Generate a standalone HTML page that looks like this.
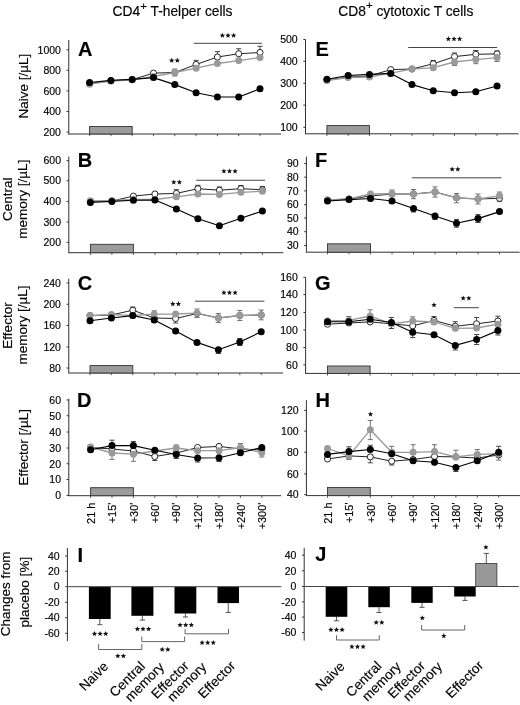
<!DOCTYPE html>
<html><head><meta charset="utf-8"><style>
html,body{margin:0;padding:0;background:#fff;}
body{width:520px;height:705px;overflow:hidden;}
svg{display:block;will-change:transform;}
text{font-family:"Liberation Sans", sans-serif;fill:#000;stroke:#000;stroke-width:0.15px;}
</style></head><body>
<svg width="520" height="705" viewBox="0 0 520 705">
<rect width="520" height="705" fill="#fff"/>
<line x1="68.75" y1="40" x2="68.75" y2="134.5" stroke="#333" stroke-width="1"/>
<line x1="66.55" y1="49.75" x2="68.75" y2="49.75" stroke="#333" stroke-width="1"/>
<text x="60.95" y="53.5" font-size="10.5" text-anchor="end" font-weight="normal">1000</text>
<line x1="66.55" y1="70.3" x2="68.75" y2="70.3" stroke="#333" stroke-width="1"/>
<text x="60.95" y="74.05" font-size="10.5" text-anchor="end" font-weight="normal">800</text>
<line x1="66.55" y1="90.9" x2="68.75" y2="90.9" stroke="#333" stroke-width="1"/>
<text x="60.95" y="94.65" font-size="10.5" text-anchor="end" font-weight="normal">600</text>
<line x1="66.55" y1="111.5" x2="68.75" y2="111.5" stroke="#333" stroke-width="1"/>
<text x="60.95" y="115.25" font-size="10.5" text-anchor="end" font-weight="normal">400</text>
<line x1="66.55" y1="132" x2="68.75" y2="132" stroke="#333" stroke-width="1"/>
<text x="60.95" y="135.75" font-size="10.5" text-anchor="end" font-weight="normal">200</text>
<line x1="68.75" y1="134" x2="281" y2="134" stroke="#333" stroke-width="1"/>
<line x1="89.6" y1="134" x2="89.6" y2="136.2" stroke="#333" stroke-width="0.8"/>
<line x1="110.9" y1="134" x2="110.9" y2="136.2" stroke="#333" stroke-width="0.8"/>
<line x1="132.2" y1="134" x2="132.2" y2="136.2" stroke="#333" stroke-width="0.8"/>
<line x1="153.5" y1="134" x2="153.5" y2="136.2" stroke="#333" stroke-width="0.8"/>
<line x1="174.8" y1="134" x2="174.8" y2="136.2" stroke="#333" stroke-width="0.8"/>
<line x1="196.1" y1="134" x2="196.1" y2="136.2" stroke="#333" stroke-width="0.8"/>
<line x1="217.4" y1="134" x2="217.4" y2="136.2" stroke="#333" stroke-width="0.8"/>
<line x1="238.7" y1="134" x2="238.7" y2="136.2" stroke="#333" stroke-width="0.8"/>
<line x1="260" y1="134" x2="260" y2="136.2" stroke="#333" stroke-width="0.8"/>
<rect x="89.6" y="126.5" width="42.6" height="7.5" fill="#9b9b9b" stroke="#333" stroke-width="0.9"/>
<text x="78" y="55.5" font-size="20" text-anchor="start" font-weight="bold">A</text>
<line x1="196.1" y1="65" x2="196.1" y2="60.4" stroke="#333" stroke-width="0.9"/>
<line x1="193.5" y1="60.4" x2="198.7" y2="60.4" stroke="#333" stroke-width="0.9"/>
<line x1="217.4" y1="56.5" x2="217.4" y2="51.6" stroke="#333" stroke-width="0.9"/>
<line x1="214.8" y1="51.6" x2="220" y2="51.6" stroke="#333" stroke-width="0.9"/>
<line x1="238.7" y1="53.75" x2="238.7" y2="48.75" stroke="#333" stroke-width="0.9"/>
<line x1="236.1" y1="48.75" x2="241.3" y2="48.75" stroke="#333" stroke-width="0.9"/>
<line x1="260" y1="52.5" x2="260" y2="46.25" stroke="#333" stroke-width="0.9"/>
<line x1="257.4" y1="46.25" x2="262.6" y2="46.25" stroke="#333" stroke-width="0.9"/>
<line x1="174.8" y1="72.5" x2="174.8" y2="69" stroke="#666" stroke-width="0.9"/>
<line x1="172.2" y1="69" x2="177.4" y2="69" stroke="#666" stroke-width="0.9"/>
<line x1="174.8" y1="72.5" x2="174.8" y2="76" stroke="#666" stroke-width="0.9"/>
<line x1="172.2" y1="76" x2="177.4" y2="76" stroke="#666" stroke-width="0.9"/>
<polyline points="89.6,83.5 110.9,80.8 132.2,79.6 153.5,73.1 174.8,72.5 196.1,64.5 217.4,57 238.7,53.75 260,52.5" fill="none" stroke="#222" stroke-width="1.0" stroke-linejoin="round"/>
<circle cx="89.6" cy="83.5" r="3.05" fill="#fff" stroke="#111" stroke-width="0.9"/>
<circle cx="110.9" cy="80.8" r="3.05" fill="#fff" stroke="#111" stroke-width="0.9"/>
<circle cx="132.2" cy="79.6" r="3.05" fill="#fff" stroke="#111" stroke-width="0.9"/>
<circle cx="153.5" cy="73.1" r="3.05" fill="#fff" stroke="#111" stroke-width="0.9"/>
<circle cx="174.8" cy="72.5" r="3.05" fill="#fff" stroke="#111" stroke-width="0.9"/>
<circle cx="196.1" cy="64.5" r="3.05" fill="#fff" stroke="#111" stroke-width="0.9"/>
<circle cx="217.4" cy="57" r="3.05" fill="#fff" stroke="#111" stroke-width="0.9"/>
<circle cx="238.7" cy="53.75" r="3.05" fill="#fff" stroke="#111" stroke-width="0.9"/>
<circle cx="260" cy="52.5" r="3.05" fill="#fff" stroke="#111" stroke-width="0.9"/>
<polyline points="89.6,84.2 110.9,81 132.2,79.8 153.5,76.5 174.8,72.5 196.1,68.2 217.4,63.5 238.7,60.6 260,57.5" fill="none" stroke="#999999" stroke-width="1.3" stroke-linejoin="round"/>
<circle cx="89.6" cy="84.2" r="3.5" fill="#9a9a9a"/>
<circle cx="110.9" cy="81" r="3.5" fill="#9a9a9a"/>
<circle cx="132.2" cy="79.8" r="3.5" fill="#9a9a9a"/>
<circle cx="153.5" cy="76.5" r="3.5" fill="#9a9a9a"/>
<circle cx="174.8" cy="72.5" r="3.5" fill="#9a9a9a"/>
<circle cx="196.1" cy="68.2" r="3.5" fill="#9a9a9a"/>
<circle cx="217.4" cy="63.5" r="3.5" fill="#9a9a9a"/>
<circle cx="238.7" cy="60.6" r="3.5" fill="#9a9a9a"/>
<circle cx="260" cy="57.5" r="3.5" fill="#9a9a9a"/>
<polyline points="89.6,82.5 110.9,80.4 132.2,79.4 153.5,77.6 174.8,84.6 196.1,92.75 217.4,97 238.7,97 260,88.75" fill="none" stroke="#000" stroke-width="1.15" stroke-linejoin="round"/>
<circle cx="89.6" cy="82.5" r="3.5" fill="#000"/>
<circle cx="110.9" cy="80.4" r="3.5" fill="#000"/>
<circle cx="132.2" cy="79.4" r="3.5" fill="#000"/>
<circle cx="153.5" cy="77.6" r="3.5" fill="#000"/>
<circle cx="174.8" cy="84.6" r="3.5" fill="#000"/>
<circle cx="196.1" cy="92.75" r="3.5" fill="#000"/>
<circle cx="217.4" cy="97" r="3.5" fill="#000"/>
<circle cx="238.7" cy="97" r="3.5" fill="#000"/>
<circle cx="260" cy="88.75" r="3.5" fill="#000"/>
<line x1="193.75" y1="43.3" x2="261.9" y2="43.3" stroke="#444" stroke-width="1"/>
<polygon points="171.7,57.8 172.44,59.58 174.36,59.73 172.9,60.99 173.35,62.87 171.7,61.86 170.05,62.87 170.5,60.99 169.04,59.73 170.96,59.58" fill="#111"/>
<polygon points="177.3,57.8 178.04,59.58 179.96,59.73 178.5,60.99 178.95,62.87 177.3,61.86 175.65,62.87 176.1,60.99 174.64,59.73 176.56,59.58" fill="#111"/>
<polygon points="222.4,32.8 223.14,34.58 225.06,34.73 223.6,35.99 224.05,37.87 222.4,36.86 220.75,37.87 221.2,35.99 219.74,34.73 221.66,34.58" fill="#111"/>
<polygon points="228,32.8 228.74,34.58 230.66,34.73 229.2,35.99 229.65,37.87 228,36.86 226.35,37.87 226.8,35.99 225.34,34.73 227.26,34.58" fill="#111"/>
<polygon points="233.6,32.8 234.34,34.58 236.26,34.73 234.8,35.99 235.25,37.87 233.6,36.86 231.95,37.87 232.4,35.99 230.94,34.73 232.86,34.58" fill="#111"/>
<line x1="68.8" y1="156.5" x2="68.8" y2="253.2" stroke="#333" stroke-width="1"/>
<line x1="66.6" y1="160.6" x2="68.8" y2="160.6" stroke="#333" stroke-width="1"/>
<text x="61" y="164.35" font-size="10.5" text-anchor="end" font-weight="normal">600</text>
<line x1="66.6" y1="180.7" x2="68.8" y2="180.7" stroke="#333" stroke-width="1"/>
<text x="61" y="184.45" font-size="10.5" text-anchor="end" font-weight="normal">500</text>
<line x1="66.6" y1="201.4" x2="68.8" y2="201.4" stroke="#333" stroke-width="1"/>
<text x="61" y="205.15" font-size="10.5" text-anchor="end" font-weight="normal">400</text>
<line x1="66.6" y1="221.9" x2="68.8" y2="221.9" stroke="#333" stroke-width="1"/>
<text x="61" y="225.65" font-size="10.5" text-anchor="end" font-weight="normal">300</text>
<line x1="66.6" y1="242.4" x2="68.8" y2="242.4" stroke="#333" stroke-width="1"/>
<text x="61" y="246.15" font-size="10.5" text-anchor="end" font-weight="normal">200</text>
<line x1="68.8" y1="252.7" x2="283.3" y2="252.7" stroke="#333" stroke-width="1"/>
<line x1="90.4" y1="252.7" x2="90.4" y2="254.9" stroke="#333" stroke-width="0.8"/>
<line x1="111.9" y1="252.7" x2="111.9" y2="254.9" stroke="#333" stroke-width="0.8"/>
<line x1="133.4" y1="252.7" x2="133.4" y2="254.9" stroke="#333" stroke-width="0.8"/>
<line x1="154.9" y1="252.7" x2="154.9" y2="254.9" stroke="#333" stroke-width="0.8"/>
<line x1="176.4" y1="252.7" x2="176.4" y2="254.9" stroke="#333" stroke-width="0.8"/>
<line x1="197.9" y1="252.7" x2="197.9" y2="254.9" stroke="#333" stroke-width="0.8"/>
<line x1="219.4" y1="252.7" x2="219.4" y2="254.9" stroke="#333" stroke-width="0.8"/>
<line x1="240.9" y1="252.7" x2="240.9" y2="254.9" stroke="#333" stroke-width="0.8"/>
<line x1="262.4" y1="252.7" x2="262.4" y2="254.9" stroke="#333" stroke-width="0.8"/>
<rect x="90.4" y="244.3" width="43" height="8.4" fill="#9b9b9b" stroke="#333" stroke-width="0.9"/>
<text x="77.75" y="167" font-size="20" text-anchor="start" font-weight="bold">B</text>
<line x1="176.4" y1="193.4" x2="176.4" y2="189.6" stroke="#333" stroke-width="0.9"/>
<line x1="173.8" y1="189.6" x2="179" y2="189.6" stroke="#333" stroke-width="0.9"/>
<line x1="197.9" y1="188.7" x2="197.9" y2="185.3" stroke="#333" stroke-width="0.9"/>
<line x1="195.3" y1="185.3" x2="200.5" y2="185.3" stroke="#333" stroke-width="0.9"/>
<line x1="219.4" y1="190.2" x2="219.4" y2="187" stroke="#333" stroke-width="0.9"/>
<line x1="216.8" y1="187" x2="222" y2="187" stroke="#333" stroke-width="0.9"/>
<line x1="240.9" y1="188.7" x2="240.9" y2="185.5" stroke="#333" stroke-width="0.9"/>
<line x1="238.3" y1="185.5" x2="243.5" y2="185.5" stroke="#333" stroke-width="0.9"/>
<line x1="262.4" y1="189.8" x2="262.4" y2="186.5" stroke="#333" stroke-width="0.9"/>
<line x1="259.8" y1="186.5" x2="265" y2="186.5" stroke="#333" stroke-width="0.9"/>
<polyline points="90.4,201.5 111.9,201 133.4,196.1 154.9,194 176.4,193.4 197.9,188.7 219.4,190.2 240.9,188.7 262.4,189.8" fill="none" stroke="#222" stroke-width="1.0" stroke-linejoin="round"/>
<circle cx="90.4" cy="201.5" r="3.05" fill="#fff" stroke="#111" stroke-width="0.9"/>
<circle cx="111.9" cy="201" r="3.05" fill="#fff" stroke="#111" stroke-width="0.9"/>
<circle cx="133.4" cy="196.1" r="3.05" fill="#fff" stroke="#111" stroke-width="0.9"/>
<circle cx="154.9" cy="194" r="3.05" fill="#fff" stroke="#111" stroke-width="0.9"/>
<circle cx="176.4" cy="193.4" r="3.05" fill="#fff" stroke="#111" stroke-width="0.9"/>
<circle cx="197.9" cy="188.7" r="3.05" fill="#fff" stroke="#111" stroke-width="0.9"/>
<circle cx="219.4" cy="190.2" r="3.05" fill="#fff" stroke="#111" stroke-width="0.9"/>
<circle cx="240.9" cy="188.7" r="3.05" fill="#fff" stroke="#111" stroke-width="0.9"/>
<circle cx="262.4" cy="189.8" r="3.05" fill="#fff" stroke="#111" stroke-width="0.9"/>
<polyline points="90.4,200.8 111.9,200.5 133.4,199.5 154.9,199.5 176.4,196.8 197.9,194 219.4,194.4 240.9,192.3 262.4,191.25" fill="none" stroke="#999999" stroke-width="1.3" stroke-linejoin="round"/>
<circle cx="90.4" cy="200.8" r="3.5" fill="#9a9a9a"/>
<circle cx="111.9" cy="200.5" r="3.5" fill="#9a9a9a"/>
<circle cx="133.4" cy="199.5" r="3.5" fill="#9a9a9a"/>
<circle cx="154.9" cy="199.5" r="3.5" fill="#9a9a9a"/>
<circle cx="176.4" cy="196.8" r="3.5" fill="#9a9a9a"/>
<circle cx="197.9" cy="194" r="3.5" fill="#9a9a9a"/>
<circle cx="219.4" cy="194.4" r="3.5" fill="#9a9a9a"/>
<circle cx="240.9" cy="192.3" r="3.5" fill="#9a9a9a"/>
<circle cx="262.4" cy="191.25" r="3.5" fill="#9a9a9a"/>
<polyline points="90.4,202.5 111.9,201.4 133.4,200.3 154.9,200 176.4,209 197.9,218.75 219.4,225.7 240.9,218.3 262.4,211" fill="none" stroke="#000" stroke-width="1.15" stroke-linejoin="round"/>
<circle cx="90.4" cy="202.5" r="3.5" fill="#000"/>
<circle cx="111.9" cy="201.4" r="3.5" fill="#000"/>
<circle cx="133.4" cy="200.3" r="3.5" fill="#000"/>
<circle cx="154.9" cy="200" r="3.5" fill="#000"/>
<circle cx="176.4" cy="209" r="3.5" fill="#000"/>
<circle cx="197.9" cy="218.75" r="3.5" fill="#000"/>
<circle cx="219.4" cy="225.7" r="3.5" fill="#000"/>
<circle cx="240.9" cy="218.3" r="3.5" fill="#000"/>
<circle cx="262.4" cy="211" r="3.5" fill="#000"/>
<line x1="196.3" y1="180.25" x2="264.9" y2="180.25" stroke="#444" stroke-width="1"/>
<polygon points="173.8,179.4 174.54,181.18 176.46,181.33 175,182.59 175.45,184.47 173.8,183.46 172.15,184.47 172.6,182.59 171.14,181.33 173.06,181.18" fill="#111"/>
<polygon points="179.4,179.4 180.14,181.18 182.06,181.33 180.6,182.59 181.05,184.47 179.4,183.46 177.75,184.47 178.2,182.59 176.74,181.33 178.66,181.18" fill="#111"/>
<polygon points="223.9,168.4 224.64,170.18 226.56,170.33 225.1,171.59 225.55,173.47 223.9,172.46 222.25,173.47 222.7,171.59 221.24,170.33 223.16,170.18" fill="#111"/>
<polygon points="229.5,168.4 230.24,170.18 232.16,170.33 230.7,171.59 231.15,173.47 229.5,172.46 227.85,173.47 228.3,171.59 226.84,170.33 228.76,170.18" fill="#111"/>
<polygon points="235.1,168.4 235.84,170.18 237.76,170.33 236.3,171.59 236.75,173.47 235.1,172.46 233.45,173.47 233.9,171.59 232.44,170.33 234.36,170.18" fill="#111"/>
<line x1="68.75" y1="278.75" x2="68.75" y2="373.5" stroke="#333" stroke-width="1"/>
<line x1="66.55" y1="283" x2="68.75" y2="283" stroke="#333" stroke-width="1"/>
<text x="60.95" y="286.75" font-size="10.5" text-anchor="end" font-weight="normal">240</text>
<line x1="66.55" y1="304.25" x2="68.75" y2="304.25" stroke="#333" stroke-width="1"/>
<text x="60.95" y="308" font-size="10.5" text-anchor="end" font-weight="normal">200</text>
<line x1="66.55" y1="325.5" x2="68.75" y2="325.5" stroke="#333" stroke-width="1"/>
<text x="60.95" y="329.25" font-size="10.5" text-anchor="end" font-weight="normal">160</text>
<line x1="66.55" y1="347" x2="68.75" y2="347" stroke="#333" stroke-width="1"/>
<text x="60.95" y="350.75" font-size="10.5" text-anchor="end" font-weight="normal">120</text>
<line x1="66.55" y1="368" x2="68.75" y2="368" stroke="#333" stroke-width="1"/>
<text x="60.95" y="371.75" font-size="10.5" text-anchor="end" font-weight="normal">80</text>
<line x1="68.75" y1="373" x2="283" y2="373" stroke="#333" stroke-width="1"/>
<line x1="90" y1="373" x2="90" y2="375.2" stroke="#333" stroke-width="0.8"/>
<line x1="111.4" y1="373" x2="111.4" y2="375.2" stroke="#333" stroke-width="0.8"/>
<line x1="132.8" y1="373" x2="132.8" y2="375.2" stroke="#333" stroke-width="0.8"/>
<line x1="154.2" y1="373" x2="154.2" y2="375.2" stroke="#333" stroke-width="0.8"/>
<line x1="175.6" y1="373" x2="175.6" y2="375.2" stroke="#333" stroke-width="0.8"/>
<line x1="197" y1="373" x2="197" y2="375.2" stroke="#333" stroke-width="0.8"/>
<line x1="218.4" y1="373" x2="218.4" y2="375.2" stroke="#333" stroke-width="0.8"/>
<line x1="239.8" y1="373" x2="239.8" y2="375.2" stroke="#333" stroke-width="0.8"/>
<line x1="261.2" y1="373" x2="261.2" y2="375.2" stroke="#333" stroke-width="0.8"/>
<rect x="90" y="365.6" width="42.8" height="7.4" fill="#9b9b9b" stroke="#333" stroke-width="0.9"/>
<text x="77.75" y="290" font-size="20" text-anchor="start" font-weight="bold">C</text>
<line x1="197" y1="313.2" x2="197" y2="309" stroke="#666" stroke-width="0.9"/>
<line x1="194.4" y1="309" x2="199.6" y2="309" stroke="#666" stroke-width="0.9"/>
<line x1="197" y1="313.2" x2="197" y2="317.5" stroke="#666" stroke-width="0.9"/>
<line x1="194.4" y1="317.5" x2="199.6" y2="317.5" stroke="#666" stroke-width="0.9"/>
<line x1="218.4" y1="318" x2="218.4" y2="313.5" stroke="#666" stroke-width="0.9"/>
<line x1="215.8" y1="313.5" x2="221" y2="313.5" stroke="#666" stroke-width="0.9"/>
<line x1="218.4" y1="318" x2="218.4" y2="322.5" stroke="#666" stroke-width="0.9"/>
<line x1="215.8" y1="322.5" x2="221" y2="322.5" stroke="#666" stroke-width="0.9"/>
<line x1="239.8" y1="315.5" x2="239.8" y2="310.5" stroke="#666" stroke-width="0.9"/>
<line x1="237.2" y1="310.5" x2="242.4" y2="310.5" stroke="#666" stroke-width="0.9"/>
<line x1="239.8" y1="315.5" x2="239.8" y2="320.5" stroke="#666" stroke-width="0.9"/>
<line x1="237.2" y1="320.5" x2="242.4" y2="320.5" stroke="#666" stroke-width="0.9"/>
<line x1="261.2" y1="314.9" x2="261.2" y2="310" stroke="#666" stroke-width="0.9"/>
<line x1="258.6" y1="310" x2="263.8" y2="310" stroke="#666" stroke-width="0.9"/>
<line x1="261.2" y1="314.9" x2="261.2" y2="319.8" stroke="#666" stroke-width="0.9"/>
<line x1="258.6" y1="319.8" x2="263.8" y2="319.8" stroke="#666" stroke-width="0.9"/>
<line x1="154.2" y1="315" x2="154.2" y2="310.8" stroke="#666" stroke-width="0.9"/>
<line x1="151.6" y1="310.8" x2="156.8" y2="310.8" stroke="#666" stroke-width="0.9"/>
<line x1="154.2" y1="315" x2="154.2" y2="319.5" stroke="#666" stroke-width="0.9"/>
<line x1="151.6" y1="319.5" x2="156.8" y2="319.5" stroke="#666" stroke-width="0.9"/>
<line x1="218.4" y1="349.8" x2="218.4" y2="353.5" stroke="#333" stroke-width="0.9"/>
<line x1="215.8" y1="353.5" x2="221" y2="353.5" stroke="#333" stroke-width="0.9"/>
<line x1="239.8" y1="342" x2="239.8" y2="345.5" stroke="#333" stroke-width="0.9"/>
<line x1="237.2" y1="345.5" x2="242.4" y2="345.5" stroke="#333" stroke-width="0.9"/>
<line x1="239.8" y1="342" x2="239.8" y2="338.5" stroke="#333" stroke-width="0.9"/>
<line x1="237.2" y1="338.5" x2="242.4" y2="338.5" stroke="#333" stroke-width="0.9"/>
<line x1="132.8" y1="310.2" x2="132.8" y2="307" stroke="#333" stroke-width="0.9"/>
<line x1="130.2" y1="307" x2="135.4" y2="307" stroke="#333" stroke-width="0.9"/>
<line x1="175.6" y1="318.5" x2="175.6" y2="323" stroke="#333" stroke-width="0.9"/>
<line x1="173" y1="323" x2="178.2" y2="323" stroke="#333" stroke-width="0.9"/>
<polyline points="90,315.5 111.4,315 132.8,310.2 154.2,318 175.6,318.5 197,313.5 218.4,318 239.8,315.5 261.2,315" fill="none" stroke="#222" stroke-width="1.0" stroke-linejoin="round"/>
<circle cx="90" cy="315.5" r="3.05" fill="#fff" stroke="#111" stroke-width="0.9"/>
<circle cx="111.4" cy="315" r="3.05" fill="#fff" stroke="#111" stroke-width="0.9"/>
<circle cx="132.8" cy="310.2" r="3.05" fill="#fff" stroke="#111" stroke-width="0.9"/>
<circle cx="154.2" cy="318" r="3.05" fill="#fff" stroke="#111" stroke-width="0.9"/>
<circle cx="175.6" cy="318.5" r="3.05" fill="#fff" stroke="#111" stroke-width="0.9"/>
<circle cx="197" cy="313.5" r="3.05" fill="#fff" stroke="#111" stroke-width="0.9"/>
<circle cx="218.4" cy="318" r="3.05" fill="#fff" stroke="#111" stroke-width="0.9"/>
<circle cx="239.8" cy="315.5" r="3.05" fill="#fff" stroke="#111" stroke-width="0.9"/>
<circle cx="261.2" cy="315" r="3.05" fill="#fff" stroke="#111" stroke-width="0.9"/>
<polyline points="90,315.6 111.4,314.6 132.8,315.5 154.2,314.2 175.6,314 197,313.2 218.4,318 239.8,315.5 261.2,314.9" fill="none" stroke="#999999" stroke-width="1.3" stroke-linejoin="round"/>
<circle cx="90" cy="315.6" r="3.5" fill="#9a9a9a"/>
<circle cx="111.4" cy="314.6" r="3.5" fill="#9a9a9a"/>
<circle cx="132.8" cy="315.5" r="3.5" fill="#9a9a9a"/>
<circle cx="154.2" cy="314.2" r="3.5" fill="#9a9a9a"/>
<circle cx="175.6" cy="314" r="3.5" fill="#9a9a9a"/>
<circle cx="197" cy="313.2" r="3.5" fill="#9a9a9a"/>
<circle cx="218.4" cy="318" r="3.5" fill="#9a9a9a"/>
<circle cx="239.8" cy="315.5" r="3.5" fill="#9a9a9a"/>
<circle cx="261.2" cy="314.9" r="3.5" fill="#9a9a9a"/>
<polyline points="90,320.8 111.4,318 132.8,315.6 154.2,320 175.6,331 197,342.4 218.4,349.8 239.8,342 261.2,331.8" fill="none" stroke="#000" stroke-width="1.15" stroke-linejoin="round"/>
<circle cx="90" cy="320.8" r="3.5" fill="#000"/>
<circle cx="111.4" cy="318" r="3.5" fill="#000"/>
<circle cx="132.8" cy="315.6" r="3.5" fill="#000"/>
<circle cx="154.2" cy="320" r="3.5" fill="#000"/>
<circle cx="175.6" cy="331" r="3.5" fill="#000"/>
<circle cx="197" cy="342.4" r="3.5" fill="#000"/>
<circle cx="218.4" cy="349.8" r="3.5" fill="#000"/>
<circle cx="239.8" cy="342" r="3.5" fill="#000"/>
<circle cx="261.2" cy="331.8" r="3.5" fill="#000"/>
<line x1="195" y1="301.2" x2="264.4" y2="301.2" stroke="#444" stroke-width="1"/>
<polygon points="172.8,301.1 173.54,302.88 175.46,303.03 174,304.29 174.45,306.17 172.8,305.16 171.15,306.17 171.6,304.29 170.14,303.03 172.06,302.88" fill="#111"/>
<polygon points="178.4,301.1 179.14,302.88 181.06,303.03 179.6,304.29 180.05,306.17 178.4,305.16 176.75,306.17 177.2,304.29 175.74,303.03 177.66,302.88" fill="#111"/>
<polygon points="223.9,289.9 224.64,291.68 226.56,291.83 225.1,293.09 225.55,294.97 223.9,293.96 222.25,294.97 222.7,293.09 221.24,291.83 223.16,291.68" fill="#111"/>
<polygon points="229.5,289.9 230.24,291.68 232.16,291.83 230.7,293.09 231.15,294.97 229.5,293.96 227.85,294.97 228.3,293.09 226.84,291.83 228.76,291.68" fill="#111"/>
<polygon points="235.1,289.9 235.84,291.68 237.76,291.83 236.3,293.09 236.75,294.97 235.1,293.96 233.45,294.97 233.9,293.09 232.44,291.83 234.36,291.68" fill="#111"/>
<line x1="68.8" y1="398.75" x2="68.8" y2="496.2" stroke="#333" stroke-width="1"/>
<line x1="66.6" y1="400" x2="68.8" y2="400" stroke="#333" stroke-width="1"/>
<text x="61" y="403.75" font-size="10.5" text-anchor="end" font-weight="normal">60</text>
<line x1="66.6" y1="415.75" x2="68.8" y2="415.75" stroke="#333" stroke-width="1"/>
<text x="61" y="419.5" font-size="10.5" text-anchor="end" font-weight="normal">50</text>
<line x1="66.6" y1="432" x2="68.8" y2="432" stroke="#333" stroke-width="1"/>
<text x="61" y="435.75" font-size="10.5" text-anchor="end" font-weight="normal">40</text>
<line x1="66.6" y1="448" x2="68.8" y2="448" stroke="#333" stroke-width="1"/>
<text x="61" y="451.75" font-size="10.5" text-anchor="end" font-weight="normal">30</text>
<line x1="66.6" y1="463.75" x2="68.8" y2="463.75" stroke="#333" stroke-width="1"/>
<text x="61" y="467.5" font-size="10.5" text-anchor="end" font-weight="normal">20</text>
<line x1="66.6" y1="479.5" x2="68.8" y2="479.5" stroke="#333" stroke-width="1"/>
<text x="61" y="483.25" font-size="10.5" text-anchor="end" font-weight="normal">10</text>
<line x1="66.6" y1="495.5" x2="68.8" y2="495.5" stroke="#333" stroke-width="1"/>
<text x="61" y="499.25" font-size="10.5" text-anchor="end" font-weight="normal">0</text>
<line x1="68.8" y1="495.7" x2="281" y2="495.7" stroke="#333" stroke-width="1"/>
<line x1="90.6" y1="495.7" x2="90.6" y2="497.9" stroke="#333" stroke-width="0.8"/>
<line x1="112" y1="495.7" x2="112" y2="497.9" stroke="#333" stroke-width="0.8"/>
<line x1="133.4" y1="495.7" x2="133.4" y2="497.9" stroke="#333" stroke-width="0.8"/>
<line x1="154.8" y1="495.7" x2="154.8" y2="497.9" stroke="#333" stroke-width="0.8"/>
<line x1="176.2" y1="495.7" x2="176.2" y2="497.9" stroke="#333" stroke-width="0.8"/>
<line x1="197.6" y1="495.7" x2="197.6" y2="497.9" stroke="#333" stroke-width="0.8"/>
<line x1="219" y1="495.7" x2="219" y2="497.9" stroke="#333" stroke-width="0.8"/>
<line x1="240.4" y1="495.7" x2="240.4" y2="497.9" stroke="#333" stroke-width="0.8"/>
<line x1="261.8" y1="495.7" x2="261.8" y2="497.9" stroke="#333" stroke-width="0.8"/>
<rect x="90.6" y="487.7" width="42.8" height="8" fill="#9b9b9b" stroke="#333" stroke-width="0.9"/>
<text x="77" y="407" font-size="20" text-anchor="start" font-weight="bold">D</text>
<line x1="112" y1="445.6" x2="112" y2="440.2" stroke="#333" stroke-width="0.9"/>
<line x1="109.4" y1="440.2" x2="114.6" y2="440.2" stroke="#333" stroke-width="0.9"/>
<line x1="112" y1="453" x2="112" y2="459.4" stroke="#666" stroke-width="0.9"/>
<line x1="109.4" y1="459.4" x2="114.6" y2="459.4" stroke="#666" stroke-width="0.9"/>
<line x1="133.4" y1="445.6" x2="133.4" y2="441.5" stroke="#333" stroke-width="0.9"/>
<line x1="130.8" y1="441.5" x2="136" y2="441.5" stroke="#333" stroke-width="0.9"/>
<line x1="133.4" y1="454.2" x2="133.4" y2="461.3" stroke="#666" stroke-width="0.9"/>
<line x1="130.8" y1="461.3" x2="136" y2="461.3" stroke="#666" stroke-width="0.9"/>
<line x1="154.8" y1="456.5" x2="154.8" y2="460.5" stroke="#333" stroke-width="0.9"/>
<line x1="152.2" y1="460.5" x2="157.4" y2="460.5" stroke="#333" stroke-width="0.9"/>
<line x1="176.2" y1="448" x2="176.2" y2="445" stroke="#666" stroke-width="0.9"/>
<line x1="173.6" y1="445" x2="178.8" y2="445" stroke="#666" stroke-width="0.9"/>
<line x1="176.2" y1="454.5" x2="176.2" y2="458.5" stroke="#333" stroke-width="0.9"/>
<line x1="173.6" y1="458.5" x2="178.8" y2="458.5" stroke="#333" stroke-width="0.9"/>
<line x1="197.6" y1="458" x2="197.6" y2="462" stroke="#333" stroke-width="0.9"/>
<line x1="195" y1="462" x2="200.2" y2="462" stroke="#333" stroke-width="0.9"/>
<line x1="219" y1="457.7" x2="219" y2="461.5" stroke="#333" stroke-width="0.9"/>
<line x1="216.4" y1="461.5" x2="221.6" y2="461.5" stroke="#333" stroke-width="0.9"/>
<line x1="240.4" y1="447.5" x2="240.4" y2="443.5" stroke="#666" stroke-width="0.9"/>
<line x1="237.8" y1="443.5" x2="243" y2="443.5" stroke="#666" stroke-width="0.9"/>
<line x1="261.8" y1="452.8" x2="261.8" y2="457" stroke="#666" stroke-width="0.9"/>
<line x1="259.2" y1="457" x2="264.4" y2="457" stroke="#666" stroke-width="0.9"/>
<polyline points="90.6,447.5 112,449 133.4,451 154.8,456.5 176.2,453 197.6,447.5 219,446.4 240.4,449 261.8,450" fill="none" stroke="#222" stroke-width="1.0" stroke-linejoin="round"/>
<circle cx="90.6" cy="447.5" r="3.05" fill="#fff" stroke="#111" stroke-width="0.9"/>
<circle cx="112" cy="449" r="3.05" fill="#fff" stroke="#111" stroke-width="0.9"/>
<circle cx="133.4" cy="451" r="3.05" fill="#fff" stroke="#111" stroke-width="0.9"/>
<circle cx="154.8" cy="456.5" r="3.05" fill="#fff" stroke="#111" stroke-width="0.9"/>
<circle cx="176.2" cy="453" r="3.05" fill="#fff" stroke="#111" stroke-width="0.9"/>
<circle cx="197.6" cy="447.5" r="3.05" fill="#fff" stroke="#111" stroke-width="0.9"/>
<circle cx="219" cy="446.4" r="3.05" fill="#fff" stroke="#111" stroke-width="0.9"/>
<circle cx="240.4" cy="449" r="3.05" fill="#fff" stroke="#111" stroke-width="0.9"/>
<circle cx="261.8" cy="450" r="3.05" fill="#fff" stroke="#111" stroke-width="0.9"/>
<polyline points="90.6,447 112,453 133.4,454.2 154.8,451 176.2,448 197.6,450.7 219,450.7 240.4,447.5 261.8,452.8" fill="none" stroke="#999999" stroke-width="1.3" stroke-linejoin="round"/>
<circle cx="90.6" cy="447" r="3.5" fill="#9a9a9a"/>
<circle cx="112" cy="453" r="3.5" fill="#9a9a9a"/>
<circle cx="133.4" cy="454.2" r="3.5" fill="#9a9a9a"/>
<circle cx="154.8" cy="451" r="3.5" fill="#9a9a9a"/>
<circle cx="176.2" cy="448" r="3.5" fill="#9a9a9a"/>
<circle cx="197.6" cy="450.7" r="3.5" fill="#9a9a9a"/>
<circle cx="219" cy="450.7" r="3.5" fill="#9a9a9a"/>
<circle cx="240.4" cy="447.5" r="3.5" fill="#9a9a9a"/>
<circle cx="261.8" cy="452.8" r="3.5" fill="#9a9a9a"/>
<polyline points="90.6,449.8 112,445.6 133.4,445.6 154.8,450.2 176.2,454.5 197.6,458 219,457.7 240.4,452.8 261.8,447.5" fill="none" stroke="#000" stroke-width="1.15" stroke-linejoin="round"/>
<circle cx="90.6" cy="449.8" r="3.5" fill="#000"/>
<circle cx="112" cy="445.6" r="3.5" fill="#000"/>
<circle cx="133.4" cy="445.6" r="3.5" fill="#000"/>
<circle cx="154.8" cy="450.2" r="3.5" fill="#000"/>
<circle cx="176.2" cy="454.5" r="3.5" fill="#000"/>
<circle cx="197.6" cy="458" r="3.5" fill="#000"/>
<circle cx="219" cy="457.7" r="3.5" fill="#000"/>
<circle cx="240.4" cy="452.8" r="3.5" fill="#000"/>
<circle cx="261.8" cy="447.5" r="3.5" fill="#000"/>
<line x1="305.5" y1="39.5" x2="305.5" y2="134.3" stroke="#333" stroke-width="1"/>
<line x1="303.3" y1="39.5" x2="305.5" y2="39.5" stroke="#333" stroke-width="1"/>
<text x="297.7" y="43.25" font-size="10.5" text-anchor="end" font-weight="normal">500</text>
<line x1="303.3" y1="61.3" x2="305.5" y2="61.3" stroke="#333" stroke-width="1"/>
<text x="297.7" y="65.05" font-size="10.5" text-anchor="end" font-weight="normal">400</text>
<line x1="303.3" y1="83.3" x2="305.5" y2="83.3" stroke="#333" stroke-width="1"/>
<text x="297.7" y="87.05" font-size="10.5" text-anchor="end" font-weight="normal">300</text>
<line x1="303.3" y1="105.1" x2="305.5" y2="105.1" stroke="#333" stroke-width="1"/>
<text x="297.7" y="108.85" font-size="10.5" text-anchor="end" font-weight="normal">200</text>
<line x1="303.3" y1="127.3" x2="305.5" y2="127.3" stroke="#333" stroke-width="1"/>
<text x="297.7" y="131.05" font-size="10.5" text-anchor="end" font-weight="normal">100</text>
<line x1="305.5" y1="133.8" x2="518.6" y2="133.8" stroke="#333" stroke-width="1"/>
<line x1="326.9" y1="133.8" x2="326.9" y2="136" stroke="#333" stroke-width="0.8"/>
<line x1="348.17" y1="133.8" x2="348.17" y2="136" stroke="#333" stroke-width="0.8"/>
<line x1="369.44" y1="133.8" x2="369.44" y2="136" stroke="#333" stroke-width="0.8"/>
<line x1="390.71" y1="133.8" x2="390.71" y2="136" stroke="#333" stroke-width="0.8"/>
<line x1="411.98" y1="133.8" x2="411.98" y2="136" stroke="#333" stroke-width="0.8"/>
<line x1="433.25" y1="133.8" x2="433.25" y2="136" stroke="#333" stroke-width="0.8"/>
<line x1="454.52" y1="133.8" x2="454.52" y2="136" stroke="#333" stroke-width="0.8"/>
<line x1="475.79" y1="133.8" x2="475.79" y2="136" stroke="#333" stroke-width="0.8"/>
<line x1="497.06" y1="133.8" x2="497.06" y2="136" stroke="#333" stroke-width="0.8"/>
<rect x="326.9" y="125.6" width="42.54" height="8.2" fill="#9b9b9b" stroke="#333" stroke-width="0.9"/>
<text x="315.5" y="56" font-size="20" text-anchor="start" font-weight="bold">E</text>
<line x1="433.25" y1="63.8" x2="433.25" y2="60.5" stroke="#333" stroke-width="0.9"/>
<line x1="430.65" y1="60.5" x2="435.85" y2="60.5" stroke="#333" stroke-width="0.9"/>
<line x1="454.52" y1="56.4" x2="454.52" y2="53" stroke="#333" stroke-width="0.9"/>
<line x1="451.92" y1="53" x2="457.12" y2="53" stroke="#333" stroke-width="0.9"/>
<line x1="475.79" y1="53.9" x2="475.79" y2="50.5" stroke="#333" stroke-width="0.9"/>
<line x1="473.19" y1="50.5" x2="478.39" y2="50.5" stroke="#333" stroke-width="0.9"/>
<line x1="497.06" y1="53.9" x2="497.06" y2="50.9" stroke="#333" stroke-width="0.9"/>
<line x1="494.46" y1="50.9" x2="499.66" y2="50.9" stroke="#333" stroke-width="0.9"/>
<line x1="475.79" y1="59.2" x2="475.79" y2="63.7" stroke="#666" stroke-width="0.9"/>
<line x1="473.19" y1="63.7" x2="478.39" y2="63.7" stroke="#666" stroke-width="0.9"/>
<line x1="497.06" y1="57.5" x2="497.06" y2="61.5" stroke="#666" stroke-width="0.9"/>
<line x1="494.46" y1="61.5" x2="499.66" y2="61.5" stroke="#666" stroke-width="0.9"/>
<line x1="454.52" y1="61.7" x2="454.52" y2="65.5" stroke="#666" stroke-width="0.9"/>
<line x1="451.92" y1="65.5" x2="457.12" y2="65.5" stroke="#666" stroke-width="0.9"/>
<polyline points="326.9,80 348.17,77 369.44,76 390.71,69.6 411.98,69 433.25,63.8 454.52,56.6 475.79,54.3 497.06,53.9" fill="none" stroke="#222" stroke-width="1.0" stroke-linejoin="round"/>
<circle cx="326.9" cy="80" r="3.05" fill="#fff" stroke="#111" stroke-width="0.9"/>
<circle cx="348.17" cy="77" r="3.05" fill="#fff" stroke="#111" stroke-width="0.9"/>
<circle cx="369.44" cy="76" r="3.05" fill="#fff" stroke="#111" stroke-width="0.9"/>
<circle cx="390.71" cy="69.6" r="3.05" fill="#fff" stroke="#111" stroke-width="0.9"/>
<circle cx="411.98" cy="69" r="3.05" fill="#fff" stroke="#111" stroke-width="0.9"/>
<circle cx="433.25" cy="63.8" r="3.05" fill="#fff" stroke="#111" stroke-width="0.9"/>
<circle cx="454.52" cy="56.6" r="3.05" fill="#fff" stroke="#111" stroke-width="0.9"/>
<circle cx="475.79" cy="54.3" r="3.05" fill="#fff" stroke="#111" stroke-width="0.9"/>
<circle cx="497.06" cy="53.9" r="3.05" fill="#fff" stroke="#111" stroke-width="0.9"/>
<polyline points="326.9,80.5 348.17,77.5 369.44,77 390.71,73.2 411.98,69.1 433.25,67.7 454.52,62 475.79,59.6 497.06,57.6" fill="none" stroke="#999999" stroke-width="1.3" stroke-linejoin="round"/>
<circle cx="326.9" cy="80.5" r="3.5" fill="#9a9a9a"/>
<circle cx="348.17" cy="77.5" r="3.5" fill="#9a9a9a"/>
<circle cx="369.44" cy="77" r="3.5" fill="#9a9a9a"/>
<circle cx="390.71" cy="73.2" r="3.5" fill="#9a9a9a"/>
<circle cx="411.98" cy="69.1" r="3.5" fill="#9a9a9a"/>
<circle cx="433.25" cy="67.7" r="3.5" fill="#9a9a9a"/>
<circle cx="454.52" cy="62" r="3.5" fill="#9a9a9a"/>
<circle cx="475.79" cy="59.6" r="3.5" fill="#9a9a9a"/>
<circle cx="497.06" cy="57.6" r="3.5" fill="#9a9a9a"/>
<polyline points="326.9,79.3 348.17,75.5 369.44,74.4 390.71,73.4 411.98,84.6 433.25,90.7 454.52,92.8 475.79,91.8 497.06,86" fill="none" stroke="#000" stroke-width="1.15" stroke-linejoin="round"/>
<circle cx="326.9" cy="79.3" r="3.5" fill="#000"/>
<circle cx="348.17" cy="75.5" r="3.5" fill="#000"/>
<circle cx="369.44" cy="74.4" r="3.5" fill="#000"/>
<circle cx="390.71" cy="73.4" r="3.5" fill="#000"/>
<circle cx="411.98" cy="84.6" r="3.5" fill="#000"/>
<circle cx="433.25" cy="90.7" r="3.5" fill="#000"/>
<circle cx="454.52" cy="92.8" r="3.5" fill="#000"/>
<circle cx="475.79" cy="91.8" r="3.5" fill="#000"/>
<circle cx="497.06" cy="86" r="3.5" fill="#000"/>
<line x1="408.2" y1="47.5" x2="497.2" y2="47.5" stroke="#444" stroke-width="1"/>
<polygon points="448.4,36.1 449.14,37.88 451.06,38.03 449.6,39.29 450.05,41.17 448.4,40.16 446.75,41.17 447.2,39.29 445.74,38.03 447.66,37.88" fill="#111"/>
<polygon points="454,36.1 454.74,37.88 456.66,38.03 455.2,39.29 455.65,41.17 454,40.16 452.35,41.17 452.8,39.29 451.34,38.03 453.26,37.88" fill="#111"/>
<polygon points="459.6,36.1 460.34,37.88 462.26,38.03 460.8,39.29 461.25,41.17 459.6,40.16 457.95,41.17 458.4,39.29 456.94,38.03 458.86,37.88" fill="#111"/>
<line x1="306.4" y1="156.6" x2="306.4" y2="252.7" stroke="#333" stroke-width="1"/>
<line x1="304.2" y1="163.6" x2="306.4" y2="163.6" stroke="#333" stroke-width="1"/>
<text x="298.6" y="167.35" font-size="10.5" text-anchor="end" font-weight="normal">90</text>
<line x1="304.2" y1="177.2" x2="306.4" y2="177.2" stroke="#333" stroke-width="1"/>
<text x="298.6" y="180.95" font-size="10.5" text-anchor="end" font-weight="normal">80</text>
<line x1="304.2" y1="190.9" x2="306.4" y2="190.9" stroke="#333" stroke-width="1"/>
<text x="298.6" y="194.65" font-size="10.5" text-anchor="end" font-weight="normal">70</text>
<line x1="304.2" y1="204.7" x2="306.4" y2="204.7" stroke="#333" stroke-width="1"/>
<text x="298.6" y="208.45" font-size="10.5" text-anchor="end" font-weight="normal">60</text>
<line x1="304.2" y1="218" x2="306.4" y2="218" stroke="#333" stroke-width="1"/>
<text x="298.6" y="221.75" font-size="10.5" text-anchor="end" font-weight="normal">50</text>
<line x1="304.2" y1="231.7" x2="306.4" y2="231.7" stroke="#333" stroke-width="1"/>
<text x="298.6" y="235.45" font-size="10.5" text-anchor="end" font-weight="normal">40</text>
<line x1="304.2" y1="245.5" x2="306.4" y2="245.5" stroke="#333" stroke-width="1"/>
<text x="298.6" y="249.25" font-size="10.5" text-anchor="end" font-weight="normal">30</text>
<line x1="306.4" y1="252.2" x2="519.6" y2="252.2" stroke="#333" stroke-width="1"/>
<line x1="327.5" y1="252.2" x2="327.5" y2="254.4" stroke="#333" stroke-width="0.8"/>
<line x1="349" y1="252.2" x2="349" y2="254.4" stroke="#333" stroke-width="0.8"/>
<line x1="370.5" y1="252.2" x2="370.5" y2="254.4" stroke="#333" stroke-width="0.8"/>
<line x1="392" y1="252.2" x2="392" y2="254.4" stroke="#333" stroke-width="0.8"/>
<line x1="413.5" y1="252.2" x2="413.5" y2="254.4" stroke="#333" stroke-width="0.8"/>
<line x1="435" y1="252.2" x2="435" y2="254.4" stroke="#333" stroke-width="0.8"/>
<line x1="456.5" y1="252.2" x2="456.5" y2="254.4" stroke="#333" stroke-width="0.8"/>
<line x1="478" y1="252.2" x2="478" y2="254.4" stroke="#333" stroke-width="0.8"/>
<line x1="499.5" y1="252.2" x2="499.5" y2="254.4" stroke="#333" stroke-width="0.8"/>
<rect x="327.5" y="243.8" width="43" height="8.4" fill="#9b9b9b" stroke="#333" stroke-width="0.9"/>
<text x="315" y="167" font-size="20" text-anchor="start" font-weight="bold">F</text>
<line x1="413.5" y1="194.1" x2="413.5" y2="189.5" stroke="#666" stroke-width="0.9"/>
<line x1="410.9" y1="189.5" x2="416.1" y2="189.5" stroke="#666" stroke-width="0.9"/>
<line x1="413.5" y1="194.1" x2="413.5" y2="198.7" stroke="#666" stroke-width="0.9"/>
<line x1="410.9" y1="198.7" x2="416.1" y2="198.7" stroke="#666" stroke-width="0.9"/>
<line x1="435" y1="192" x2="435" y2="186.9" stroke="#666" stroke-width="0.9"/>
<line x1="432.4" y1="186.9" x2="437.6" y2="186.9" stroke="#666" stroke-width="0.9"/>
<line x1="435" y1="192" x2="435" y2="197.1" stroke="#666" stroke-width="0.9"/>
<line x1="432.4" y1="197.1" x2="437.6" y2="197.1" stroke="#666" stroke-width="0.9"/>
<line x1="456.5" y1="197.8" x2="456.5" y2="193.5" stroke="#666" stroke-width="0.9"/>
<line x1="453.9" y1="193.5" x2="459.1" y2="193.5" stroke="#666" stroke-width="0.9"/>
<line x1="456.5" y1="197.8" x2="456.5" y2="202.8" stroke="#666" stroke-width="0.9"/>
<line x1="453.9" y1="202.8" x2="459.1" y2="202.8" stroke="#666" stroke-width="0.9"/>
<line x1="478" y1="199" x2="478" y2="194" stroke="#666" stroke-width="0.9"/>
<line x1="475.4" y1="194" x2="480.6" y2="194" stroke="#666" stroke-width="0.9"/>
<line x1="478" y1="199" x2="478" y2="204" stroke="#666" stroke-width="0.9"/>
<line x1="475.4" y1="204" x2="480.6" y2="204" stroke="#666" stroke-width="0.9"/>
<line x1="499.5" y1="195.8" x2="499.5" y2="192" stroke="#666" stroke-width="0.9"/>
<line x1="496.9" y1="192" x2="502.1" y2="192" stroke="#666" stroke-width="0.9"/>
<line x1="499.5" y1="197" x2="499.5" y2="201.6" stroke="#666" stroke-width="0.9"/>
<line x1="496.9" y1="201.6" x2="502.1" y2="201.6" stroke="#666" stroke-width="0.9"/>
<line x1="392" y1="193.7" x2="392" y2="190" stroke="#666" stroke-width="0.9"/>
<line x1="389.4" y1="190" x2="394.6" y2="190" stroke="#666" stroke-width="0.9"/>
<line x1="456.5" y1="223.3" x2="456.5" y2="227.2" stroke="#333" stroke-width="0.9"/>
<line x1="453.9" y1="227.2" x2="459.1" y2="227.2" stroke="#333" stroke-width="0.9"/>
<line x1="456.5" y1="223.3" x2="456.5" y2="219.4" stroke="#333" stroke-width="0.9"/>
<line x1="453.9" y1="219.4" x2="459.1" y2="219.4" stroke="#333" stroke-width="0.9"/>
<line x1="478" y1="218.6" x2="478" y2="222.5" stroke="#333" stroke-width="0.9"/>
<line x1="475.4" y1="222.5" x2="480.6" y2="222.5" stroke="#333" stroke-width="0.9"/>
<line x1="478" y1="218.6" x2="478" y2="214.6" stroke="#333" stroke-width="0.9"/>
<line x1="475.4" y1="214.6" x2="480.6" y2="214.6" stroke="#333" stroke-width="0.9"/>
<line x1="435" y1="216" x2="435" y2="219.5" stroke="#333" stroke-width="0.9"/>
<line x1="432.4" y1="219.5" x2="437.6" y2="219.5" stroke="#333" stroke-width="0.9"/>
<line x1="413.5" y1="208.5" x2="413.5" y2="212" stroke="#333" stroke-width="0.9"/>
<line x1="410.9" y1="212" x2="416.1" y2="212" stroke="#333" stroke-width="0.9"/>
<polyline points="327.5,200 349,199 370.5,196 392,194 413.5,194 435,192 456.5,197.8 478,199 499.5,198.3" fill="none" stroke="#222" stroke-width="1.0" stroke-linejoin="round"/>
<circle cx="327.5" cy="200" r="3.05" fill="#fff" stroke="#111" stroke-width="0.9"/>
<circle cx="349" cy="199" r="3.05" fill="#fff" stroke="#111" stroke-width="0.9"/>
<circle cx="370.5" cy="196" r="3.05" fill="#fff" stroke="#111" stroke-width="0.9"/>
<circle cx="392" cy="194" r="3.05" fill="#fff" stroke="#111" stroke-width="0.9"/>
<circle cx="413.5" cy="194" r="3.05" fill="#fff" stroke="#111" stroke-width="0.9"/>
<circle cx="435" cy="192" r="3.05" fill="#fff" stroke="#111" stroke-width="0.9"/>
<circle cx="456.5" cy="197.8" r="3.05" fill="#fff" stroke="#111" stroke-width="0.9"/>
<circle cx="478" cy="199" r="3.05" fill="#fff" stroke="#111" stroke-width="0.9"/>
<circle cx="499.5" cy="198.3" r="3.05" fill="#fff" stroke="#111" stroke-width="0.9"/>
<polyline points="327.5,200 349,199 370.5,194 392,193.7 413.5,194.1 435,192 456.5,197.8 478,199 499.5,195.8" fill="none" stroke="#999999" stroke-width="1.3" stroke-linejoin="round"/>
<circle cx="327.5" cy="200" r="3.5" fill="#9a9a9a"/>
<circle cx="349" cy="199" r="3.5" fill="#9a9a9a"/>
<circle cx="370.5" cy="194" r="3.5" fill="#9a9a9a"/>
<circle cx="392" cy="193.7" r="3.5" fill="#9a9a9a"/>
<circle cx="413.5" cy="194.1" r="3.5" fill="#9a9a9a"/>
<circle cx="435" cy="192" r="3.5" fill="#9a9a9a"/>
<circle cx="456.5" cy="197.8" r="3.5" fill="#9a9a9a"/>
<circle cx="478" cy="199" r="3.5" fill="#9a9a9a"/>
<circle cx="499.5" cy="195.8" r="3.5" fill="#9a9a9a"/>
<polyline points="327.5,201 349,199.6 370.5,198.5 392,201 413.5,208.5 435,216 456.5,223.3 478,218.6 499.5,211.6" fill="none" stroke="#000" stroke-width="1.15" stroke-linejoin="round"/>
<circle cx="327.5" cy="201" r="3.5" fill="#000"/>
<circle cx="349" cy="199.6" r="3.5" fill="#000"/>
<circle cx="370.5" cy="198.5" r="3.5" fill="#000"/>
<circle cx="392" cy="201" r="3.5" fill="#000"/>
<circle cx="413.5" cy="208.5" r="3.5" fill="#000"/>
<circle cx="435" cy="216" r="3.5" fill="#000"/>
<circle cx="456.5" cy="223.3" r="3.5" fill="#000"/>
<circle cx="478" cy="218.6" r="3.5" fill="#000"/>
<circle cx="499.5" cy="211.6" r="3.5" fill="#000"/>
<line x1="411.8" y1="177.8" x2="501.4" y2="177.8" stroke="#444" stroke-width="1"/>
<polygon points="452.2,166.5 452.94,168.28 454.86,168.43 453.4,169.69 453.85,171.57 452.2,170.56 450.55,171.57 451,169.69 449.54,168.43 451.46,168.28" fill="#111"/>
<polygon points="457.8,166.5 458.54,168.28 460.46,168.43 459,169.69 459.45,171.57 457.8,170.56 456.15,171.57 456.6,169.69 455.14,168.43 457.06,168.28" fill="#111"/>
<line x1="305.6" y1="277.3" x2="305.6" y2="373.9" stroke="#333" stroke-width="1"/>
<line x1="303.4" y1="277.3" x2="305.6" y2="277.3" stroke="#333" stroke-width="1"/>
<text x="297.8" y="281.05" font-size="10.5" text-anchor="end" font-weight="normal">160</text>
<line x1="303.4" y1="294.6" x2="305.6" y2="294.6" stroke="#333" stroke-width="1"/>
<text x="297.8" y="298.35" font-size="10.5" text-anchor="end" font-weight="normal">140</text>
<line x1="303.4" y1="312.6" x2="305.6" y2="312.6" stroke="#333" stroke-width="1"/>
<text x="297.8" y="316.35" font-size="10.5" text-anchor="end" font-weight="normal">120</text>
<line x1="303.4" y1="330" x2="305.6" y2="330" stroke="#333" stroke-width="1"/>
<text x="297.8" y="333.75" font-size="10.5" text-anchor="end" font-weight="normal">100</text>
<line x1="303.4" y1="347.5" x2="305.6" y2="347.5" stroke="#333" stroke-width="1"/>
<text x="297.8" y="351.25" font-size="10.5" text-anchor="end" font-weight="normal">80</text>
<line x1="303.4" y1="364.9" x2="305.6" y2="364.9" stroke="#333" stroke-width="1"/>
<text x="297.8" y="368.65" font-size="10.5" text-anchor="end" font-weight="normal">60</text>
<line x1="305.6" y1="373.4" x2="520" y2="373.4" stroke="#333" stroke-width="1"/>
<line x1="327.5" y1="373.4" x2="327.5" y2="375.6" stroke="#333" stroke-width="0.8"/>
<line x1="348.8" y1="373.4" x2="348.8" y2="375.6" stroke="#333" stroke-width="0.8"/>
<line x1="370.1" y1="373.4" x2="370.1" y2="375.6" stroke="#333" stroke-width="0.8"/>
<line x1="391.4" y1="373.4" x2="391.4" y2="375.6" stroke="#333" stroke-width="0.8"/>
<line x1="412.7" y1="373.4" x2="412.7" y2="375.6" stroke="#333" stroke-width="0.8"/>
<line x1="434" y1="373.4" x2="434" y2="375.6" stroke="#333" stroke-width="0.8"/>
<line x1="455.3" y1="373.4" x2="455.3" y2="375.6" stroke="#333" stroke-width="0.8"/>
<line x1="476.6" y1="373.4" x2="476.6" y2="375.6" stroke="#333" stroke-width="0.8"/>
<line x1="497.9" y1="373.4" x2="497.9" y2="375.6" stroke="#333" stroke-width="0.8"/>
<rect x="327.5" y="366" width="42.6" height="7.4" fill="#9b9b9b" stroke="#333" stroke-width="0.9"/>
<text x="315.1" y="289.5" font-size="20" text-anchor="start" font-weight="bold">G</text>
<line x1="370.1" y1="316" x2="370.1" y2="309.8" stroke="#666" stroke-width="0.9"/>
<line x1="367.5" y1="309.8" x2="372.7" y2="309.8" stroke="#666" stroke-width="0.9"/>
<line x1="348.8" y1="320.4" x2="348.8" y2="316.5" stroke="#666" stroke-width="0.9"/>
<line x1="346.2" y1="316.5" x2="351.4" y2="316.5" stroke="#666" stroke-width="0.9"/>
<line x1="391.4" y1="322.5" x2="391.4" y2="317.5" stroke="#333" stroke-width="0.9"/>
<line x1="388.8" y1="317.5" x2="394" y2="317.5" stroke="#333" stroke-width="0.9"/>
<line x1="391.4" y1="323.8" x2="391.4" y2="328.5" stroke="#333" stroke-width="0.9"/>
<line x1="388.8" y1="328.5" x2="394" y2="328.5" stroke="#333" stroke-width="0.9"/>
<line x1="412.7" y1="321" x2="412.7" y2="316.8" stroke="#666" stroke-width="0.9"/>
<line x1="410.1" y1="316.8" x2="415.3" y2="316.8" stroke="#666" stroke-width="0.9"/>
<line x1="412.7" y1="332.3" x2="412.7" y2="337.6" stroke="#333" stroke-width="0.9"/>
<line x1="410.1" y1="337.6" x2="415.3" y2="337.6" stroke="#333" stroke-width="0.9"/>
<line x1="434" y1="320.4" x2="434" y2="316.5" stroke="#333" stroke-width="0.9"/>
<line x1="431.4" y1="316.5" x2="436.6" y2="316.5" stroke="#333" stroke-width="0.9"/>
<line x1="455.3" y1="326.3" x2="455.3" y2="321.7" stroke="#333" stroke-width="0.9"/>
<line x1="452.7" y1="321.7" x2="457.9" y2="321.7" stroke="#333" stroke-width="0.9"/>
<line x1="455.3" y1="345.4" x2="455.3" y2="350" stroke="#333" stroke-width="0.9"/>
<line x1="452.7" y1="350" x2="457.9" y2="350" stroke="#333" stroke-width="0.9"/>
<line x1="476.6" y1="323.8" x2="476.6" y2="317.5" stroke="#333" stroke-width="0.9"/>
<line x1="474" y1="317.5" x2="479.2" y2="317.5" stroke="#333" stroke-width="0.9"/>
<line x1="476.6" y1="339.5" x2="476.6" y2="344.5" stroke="#333" stroke-width="0.9"/>
<line x1="474" y1="344.5" x2="479.2" y2="344.5" stroke="#333" stroke-width="0.9"/>
<line x1="476.6" y1="339.5" x2="476.6" y2="334.5" stroke="#333" stroke-width="0.9"/>
<line x1="474" y1="334.5" x2="479.2" y2="334.5" stroke="#333" stroke-width="0.9"/>
<line x1="497.9" y1="321" x2="497.9" y2="316.2" stroke="#333" stroke-width="0.9"/>
<line x1="495.3" y1="316.2" x2="500.5" y2="316.2" stroke="#333" stroke-width="0.9"/>
<line x1="497.9" y1="330.6" x2="497.9" y2="335" stroke="#333" stroke-width="0.9"/>
<line x1="495.3" y1="335" x2="500.5" y2="335" stroke="#333" stroke-width="0.9"/>
<line x1="497.9" y1="330.6" x2="497.9" y2="326" stroke="#333" stroke-width="0.9"/>
<line x1="495.3" y1="326" x2="500.5" y2="326" stroke="#333" stroke-width="0.9"/>
<polyline points="327.5,324.2 348.8,323 370.1,321.9 391.4,323.8 412.7,325.9 434,320.4 455.3,326.3 476.6,323.8 497.9,321" fill="none" stroke="#222" stroke-width="1.0" stroke-linejoin="round"/>
<circle cx="327.5" cy="324.2" r="3.05" fill="#fff" stroke="#111" stroke-width="0.9"/>
<circle cx="348.8" cy="323" r="3.05" fill="#fff" stroke="#111" stroke-width="0.9"/>
<circle cx="370.1" cy="321.9" r="3.05" fill="#fff" stroke="#111" stroke-width="0.9"/>
<circle cx="391.4" cy="323.8" r="3.05" fill="#fff" stroke="#111" stroke-width="0.9"/>
<circle cx="412.7" cy="325.9" r="3.05" fill="#fff" stroke="#111" stroke-width="0.9"/>
<circle cx="434" cy="320.4" r="3.05" fill="#fff" stroke="#111" stroke-width="0.9"/>
<circle cx="455.3" cy="326.3" r="3.05" fill="#fff" stroke="#111" stroke-width="0.9"/>
<circle cx="476.6" cy="323.8" r="3.05" fill="#fff" stroke="#111" stroke-width="0.9"/>
<circle cx="497.9" cy="321" r="3.05" fill="#fff" stroke="#111" stroke-width="0.9"/>
<polyline points="327.5,321 348.8,320.4 370.1,316 391.4,323.8 412.7,321 434,322 455.3,328.3 476.6,328 497.9,324.2" fill="none" stroke="#999999" stroke-width="1.3" stroke-linejoin="round"/>
<circle cx="327.5" cy="321" r="3.5" fill="#9a9a9a"/>
<circle cx="348.8" cy="320.4" r="3.5" fill="#9a9a9a"/>
<circle cx="370.1" cy="316" r="3.5" fill="#9a9a9a"/>
<circle cx="391.4" cy="323.8" r="3.5" fill="#9a9a9a"/>
<circle cx="412.7" cy="321" r="3.5" fill="#9a9a9a"/>
<circle cx="434" cy="322" r="3.5" fill="#9a9a9a"/>
<circle cx="455.3" cy="328.3" r="3.5" fill="#9a9a9a"/>
<circle cx="476.6" cy="328" r="3.5" fill="#9a9a9a"/>
<circle cx="497.9" cy="324.2" r="3.5" fill="#9a9a9a"/>
<polyline points="327.5,321.7 348.8,321.7 370.1,319.3 391.4,322.5 412.7,332.3 434,334.8 455.3,345.4 476.6,339.5 497.9,330.6" fill="none" stroke="#000" stroke-width="1.15" stroke-linejoin="round"/>
<circle cx="327.5" cy="321.7" r="3.5" fill="#000"/>
<circle cx="348.8" cy="321.7" r="3.5" fill="#000"/>
<circle cx="370.1" cy="319.3" r="3.5" fill="#000"/>
<circle cx="391.4" cy="322.5" r="3.5" fill="#000"/>
<circle cx="412.7" cy="332.3" r="3.5" fill="#000"/>
<circle cx="434" cy="334.8" r="3.5" fill="#000"/>
<circle cx="455.3" cy="345.4" r="3.5" fill="#000"/>
<circle cx="476.6" cy="339.5" r="3.5" fill="#000"/>
<circle cx="497.9" cy="330.6" r="3.5" fill="#000"/>
<line x1="453.8" y1="307.7" x2="478.8" y2="307.7" stroke="#444" stroke-width="1"/>
<polygon points="434,302.2 434.74,303.98 436.66,304.13 435.2,305.39 435.65,307.27 434,306.26 432.35,307.27 432.8,305.39 431.34,304.13 433.26,303.98" fill="#111"/>
<polygon points="463.2,295.4 463.94,297.18 465.86,297.33 464.4,298.59 464.85,300.47 463.2,299.46 461.55,300.47 462,298.59 460.54,297.33 462.46,297.18" fill="#111"/>
<polygon points="468.8,295.4 469.54,297.18 471.46,297.33 470,298.59 470.45,300.47 468.8,299.46 467.15,300.47 467.6,298.59 466.14,297.33 468.06,297.18" fill="#111"/>
<line x1="306.4" y1="400.2" x2="306.4" y2="496.1" stroke="#333" stroke-width="1"/>
<line x1="304.2" y1="410.4" x2="306.4" y2="410.4" stroke="#333" stroke-width="1"/>
<text x="298.6" y="414.15" font-size="10.5" text-anchor="end" font-weight="normal">120</text>
<line x1="304.2" y1="431.1" x2="306.4" y2="431.1" stroke="#333" stroke-width="1"/>
<text x="298.6" y="434.85" font-size="10.5" text-anchor="end" font-weight="normal">100</text>
<line x1="304.2" y1="452.3" x2="306.4" y2="452.3" stroke="#333" stroke-width="1"/>
<text x="298.6" y="456.05" font-size="10.5" text-anchor="end" font-weight="normal">80</text>
<line x1="304.2" y1="473.9" x2="306.4" y2="473.9" stroke="#333" stroke-width="1"/>
<text x="298.6" y="477.65" font-size="10.5" text-anchor="end" font-weight="normal">60</text>
<line x1="304.2" y1="494.6" x2="306.4" y2="494.6" stroke="#333" stroke-width="1"/>
<text x="298.6" y="498.35" font-size="10.5" text-anchor="end" font-weight="normal">40</text>
<line x1="306.4" y1="495.6" x2="520" y2="495.6" stroke="#333" stroke-width="1"/>
<line x1="327.5" y1="495.6" x2="327.5" y2="497.8" stroke="#333" stroke-width="0.8"/>
<line x1="348.9" y1="495.6" x2="348.9" y2="497.8" stroke="#333" stroke-width="0.8"/>
<line x1="370.3" y1="495.6" x2="370.3" y2="497.8" stroke="#333" stroke-width="0.8"/>
<line x1="391.7" y1="495.6" x2="391.7" y2="497.8" stroke="#333" stroke-width="0.8"/>
<line x1="413.1" y1="495.6" x2="413.1" y2="497.8" stroke="#333" stroke-width="0.8"/>
<line x1="434.5" y1="495.6" x2="434.5" y2="497.8" stroke="#333" stroke-width="0.8"/>
<line x1="455.9" y1="495.6" x2="455.9" y2="497.8" stroke="#333" stroke-width="0.8"/>
<line x1="477.3" y1="495.6" x2="477.3" y2="497.8" stroke="#333" stroke-width="0.8"/>
<line x1="498.7" y1="495.6" x2="498.7" y2="497.8" stroke="#333" stroke-width="0.8"/>
<rect x="327.5" y="487.5" width="42.8" height="8.1" fill="#9b9b9b" stroke="#333" stroke-width="0.9"/>
<text x="315.5" y="407.2" font-size="20" text-anchor="start" font-weight="bold">H</text>
<line x1="348.9" y1="451.6" x2="348.9" y2="446.8" stroke="#333" stroke-width="0.9"/>
<line x1="346.3" y1="446.8" x2="351.5" y2="446.8" stroke="#333" stroke-width="0.9"/>
<line x1="348.9" y1="455.9" x2="348.9" y2="459.5" stroke="#666" stroke-width="0.9"/>
<line x1="346.3" y1="459.5" x2="351.5" y2="459.5" stroke="#666" stroke-width="0.9"/>
<line x1="370.3" y1="449.5" x2="370.3" y2="445.3" stroke="#333" stroke-width="0.9"/>
<line x1="367.7" y1="445.3" x2="372.9" y2="445.3" stroke="#333" stroke-width="0.9"/>
<line x1="370.3" y1="429.8" x2="370.3" y2="420.5" stroke="#666" stroke-width="0.9"/>
<line x1="367.7" y1="420.5" x2="372.9" y2="420.5" stroke="#666" stroke-width="0.9"/>
<line x1="370.3" y1="429.8" x2="370.3" y2="439.6" stroke="#666" stroke-width="0.9"/>
<line x1="367.7" y1="439.6" x2="372.9" y2="439.6" stroke="#666" stroke-width="0.9"/>
<line x1="370.3" y1="456.9" x2="370.3" y2="462.8" stroke="#333" stroke-width="0.9"/>
<line x1="367.7" y1="462.8" x2="372.9" y2="462.8" stroke="#333" stroke-width="0.9"/>
<line x1="391.7" y1="452.3" x2="391.7" y2="446.3" stroke="#666" stroke-width="0.9"/>
<line x1="389.1" y1="446.3" x2="394.3" y2="446.3" stroke="#666" stroke-width="0.9"/>
<line x1="391.7" y1="461.2" x2="391.7" y2="465" stroke="#333" stroke-width="0.9"/>
<line x1="389.1" y1="465" x2="394.3" y2="465" stroke="#333" stroke-width="0.9"/>
<line x1="413.1" y1="452.3" x2="413.1" y2="444.7" stroke="#666" stroke-width="0.9"/>
<line x1="410.5" y1="444.7" x2="415.7" y2="444.7" stroke="#666" stroke-width="0.9"/>
<line x1="434.5" y1="451.6" x2="434.5" y2="444.7" stroke="#666" stroke-width="0.9"/>
<line x1="431.9" y1="444.7" x2="437.1" y2="444.7" stroke="#666" stroke-width="0.9"/>
<line x1="455.9" y1="456.9" x2="455.9" y2="450.2" stroke="#666" stroke-width="0.9"/>
<line x1="453.3" y1="450.2" x2="458.5" y2="450.2" stroke="#666" stroke-width="0.9"/>
<line x1="455.9" y1="467.5" x2="455.9" y2="471.5" stroke="#333" stroke-width="0.9"/>
<line x1="453.3" y1="471.5" x2="458.5" y2="471.5" stroke="#333" stroke-width="0.9"/>
<line x1="477.3" y1="454.4" x2="477.3" y2="449.5" stroke="#666" stroke-width="0.9"/>
<line x1="474.7" y1="449.5" x2="479.9" y2="449.5" stroke="#666" stroke-width="0.9"/>
<line x1="498.7" y1="452.3" x2="498.7" y2="446.3" stroke="#333" stroke-width="0.9"/>
<line x1="496.1" y1="446.3" x2="501.3" y2="446.3" stroke="#333" stroke-width="0.9"/>
<line x1="498.7" y1="453.8" x2="498.7" y2="460.1" stroke="#666" stroke-width="0.9"/>
<line x1="496.1" y1="460.1" x2="501.3" y2="460.1" stroke="#666" stroke-width="0.9"/>
<polyline points="327.5,459 348.9,455.9 370.3,456.9 391.7,461.2 413.1,459.5 434.5,456.5 455.9,456.9 477.3,458 498.7,455" fill="none" stroke="#222" stroke-width="1.0" stroke-linejoin="round"/>
<circle cx="327.5" cy="459" r="3.05" fill="#fff" stroke="#111" stroke-width="0.9"/>
<circle cx="348.9" cy="455.9" r="3.05" fill="#fff" stroke="#111" stroke-width="0.9"/>
<circle cx="370.3" cy="456.9" r="3.05" fill="#fff" stroke="#111" stroke-width="0.9"/>
<circle cx="391.7" cy="461.2" r="3.05" fill="#fff" stroke="#111" stroke-width="0.9"/>
<circle cx="413.1" cy="459.5" r="3.05" fill="#fff" stroke="#111" stroke-width="0.9"/>
<circle cx="434.5" cy="456.5" r="3.05" fill="#fff" stroke="#111" stroke-width="0.9"/>
<circle cx="455.9" cy="456.9" r="3.05" fill="#fff" stroke="#111" stroke-width="0.9"/>
<circle cx="477.3" cy="458" r="3.05" fill="#fff" stroke="#111" stroke-width="0.9"/>
<circle cx="498.7" cy="455" r="3.05" fill="#fff" stroke="#111" stroke-width="0.9"/>
<polyline points="327.5,448.5 348.9,455.9 370.3,429.8 391.7,452.3 413.1,452.3 434.5,451.6 455.9,456.9 477.3,454.4 498.7,453.8" fill="none" stroke="#999999" stroke-width="1.3" stroke-linejoin="round"/>
<circle cx="327.5" cy="448.5" r="3.5" fill="#9a9a9a"/>
<circle cx="348.9" cy="455.9" r="3.5" fill="#9a9a9a"/>
<circle cx="370.3" cy="429.8" r="3.5" fill="#9a9a9a"/>
<circle cx="391.7" cy="452.3" r="3.5" fill="#9a9a9a"/>
<circle cx="413.1" cy="452.3" r="3.5" fill="#9a9a9a"/>
<circle cx="434.5" cy="451.6" r="3.5" fill="#9a9a9a"/>
<circle cx="455.9" cy="456.9" r="3.5" fill="#9a9a9a"/>
<circle cx="477.3" cy="454.4" r="3.5" fill="#9a9a9a"/>
<circle cx="498.7" cy="453.8" r="3.5" fill="#9a9a9a"/>
<polyline points="327.5,454.4 348.9,451.6 370.3,449.5 391.7,453.8 413.1,460.7 434.5,462.2 455.9,467.5 477.3,460.7 498.7,452.3" fill="none" stroke="#000" stroke-width="1.15" stroke-linejoin="round"/>
<circle cx="327.5" cy="454.4" r="3.5" fill="#000"/>
<circle cx="348.9" cy="451.6" r="3.5" fill="#000"/>
<circle cx="370.3" cy="449.5" r="3.5" fill="#000"/>
<circle cx="391.7" cy="453.8" r="3.5" fill="#000"/>
<circle cx="413.1" cy="460.7" r="3.5" fill="#000"/>
<circle cx="434.5" cy="462.2" r="3.5" fill="#000"/>
<circle cx="455.9" cy="467.5" r="3.5" fill="#000"/>
<circle cx="477.3" cy="460.7" r="3.5" fill="#000"/>
<circle cx="498.7" cy="452.3" r="3.5" fill="#000"/>
<polygon points="370.5,411.4 371.24,413.18 373.16,413.33 371.7,414.59 372.15,416.47 370.5,415.46 368.85,416.47 369.3,414.59 367.84,413.33 369.76,413.18" fill="#111"/>
<line x1="67.4" y1="547.9" x2="67.4" y2="641.2" stroke="#333" stroke-width="1"/>
<line x1="65.2" y1="556" x2="67.4" y2="556" stroke="#333" stroke-width="1"/>
<text x="59.6" y="559.75" font-size="10.5" text-anchor="end" font-weight="normal">40</text>
<line x1="65.2" y1="571.3" x2="67.4" y2="571.3" stroke="#333" stroke-width="1"/>
<text x="59.6" y="575.05" font-size="10.5" text-anchor="end" font-weight="normal">20</text>
<line x1="65.2" y1="586.7" x2="67.4" y2="586.7" stroke="#333" stroke-width="1"/>
<text x="59.6" y="590.45" font-size="10.5" text-anchor="end" font-weight="normal">0</text>
<line x1="65.2" y1="602.3" x2="67.4" y2="602.3" stroke="#333" stroke-width="1"/>
<text x="59.6" y="606.05" font-size="10.5" text-anchor="end" font-weight="normal">-20</text>
<line x1="65.2" y1="617.7" x2="67.4" y2="617.7" stroke="#333" stroke-width="1"/>
<text x="59.6" y="621.45" font-size="10.5" text-anchor="end" font-weight="normal">-40</text>
<line x1="65.2" y1="633.3" x2="67.4" y2="633.3" stroke="#333" stroke-width="1"/>
<text x="59.6" y="637.05" font-size="10.5" text-anchor="end" font-weight="normal">-60</text>
<line x1="99.8" y1="619" x2="99.8" y2="624.7" stroke="#444" stroke-width="0.9"/>
<line x1="97.2" y1="624.7" x2="102.4" y2="624.7" stroke="#444" stroke-width="0.9"/>
<rect x="88.9" y="586.7" width="21.8" height="32.3" fill="#000"/>
<line x1="142.4" y1="615.8" x2="142.4" y2="620.1" stroke="#444" stroke-width="0.9"/>
<line x1="139.8" y1="620.1" x2="145" y2="620.1" stroke="#444" stroke-width="0.9"/>
<rect x="131.4" y="586.7" width="22" height="29.1" fill="#000"/>
<line x1="185.4" y1="613.5" x2="185.4" y2="617" stroke="#444" stroke-width="0.9"/>
<line x1="182.8" y1="617" x2="188" y2="617" stroke="#444" stroke-width="0.9"/>
<rect x="174.5" y="586.7" width="21.8" height="26.8" fill="#000"/>
<line x1="228.25" y1="603.1" x2="228.25" y2="612.4" stroke="#444" stroke-width="0.9"/>
<line x1="225.65" y1="612.4" x2="230.85" y2="612.4" stroke="#444" stroke-width="0.9"/>
<rect x="217.5" y="586.7" width="21.5" height="16.4" fill="#000"/>
<line x1="67.4" y1="586.7" x2="281.3" y2="586.7" stroke="#444" stroke-width="1"/>
<text x="77.6" y="561.6" font-size="20" text-anchor="start" font-weight="bold">I</text>
<polyline points="98.6,643.8 98.6,649.5 141.8,649.5 141.8,643.8" fill="none" stroke="#555" stroke-width="0.9"/>
<polyline points="141.8,636.5 141.8,641.6 184.6,641.6 184.6,636.5" fill="none" stroke="#555" stroke-width="0.9"/>
<polyline points="185.1,628.9 185.1,633.8 228.5,633.8 228.5,628.9" fill="none" stroke="#555" stroke-width="0.9"/>
<polygon points="94.5,631 95.24,632.78 97.16,632.93 95.7,634.19 96.15,636.07 94.5,635.06 92.85,636.07 93.3,634.19 91.84,632.93 93.76,632.78" fill="#111"/>
<polygon points="100.1,631 100.84,632.78 102.76,632.93 101.3,634.19 101.75,636.07 100.1,635.06 98.45,636.07 98.9,634.19 97.44,632.93 99.36,632.78" fill="#111"/>
<polygon points="105.7,631 106.44,632.78 108.36,632.93 106.9,634.19 107.35,636.07 105.7,635.06 104.05,636.07 104.5,634.19 103.04,632.93 104.96,632.78" fill="#111"/>
<polygon points="137.4,626.2 138.14,627.98 140.06,628.13 138.6,629.39 139.05,631.27 137.4,630.26 135.75,631.27 136.2,629.39 134.74,628.13 136.66,627.98" fill="#111"/>
<polygon points="143,626.2 143.74,627.98 145.66,628.13 144.2,629.39 144.65,631.27 143,630.26 141.35,631.27 141.8,629.39 140.34,628.13 142.26,627.98" fill="#111"/>
<polygon points="148.6,626.2 149.34,627.98 151.26,628.13 149.8,629.39 150.25,631.27 148.6,630.26 146.95,631.27 147.4,629.39 145.94,628.13 147.86,627.98" fill="#111"/>
<polygon points="180.1,622.3 180.84,624.08 182.76,624.23 181.3,625.49 181.75,627.37 180.1,626.36 178.45,627.37 178.9,625.49 177.44,624.23 179.36,624.08" fill="#111"/>
<polygon points="185.7,622.3 186.44,624.08 188.36,624.23 186.9,625.49 187.35,627.37 185.7,626.36 184.05,627.37 184.5,625.49 183.04,624.23 184.96,624.08" fill="#111"/>
<polygon points="191.3,622.3 192.04,624.08 193.96,624.23 192.5,625.49 192.95,627.37 191.3,626.36 189.65,627.37 190.1,625.49 188.64,624.23 190.56,624.08" fill="#111"/>
<polygon points="117.8,653.2 118.54,654.98 120.46,655.13 119,656.39 119.45,658.27 117.8,657.26 116.15,658.27 116.6,656.39 115.14,655.13 117.06,654.98" fill="#111"/>
<polygon points="123.4,653.2 124.14,654.98 126.06,655.13 124.6,656.39 125.05,658.27 123.4,657.26 121.75,658.27 122.2,656.39 120.74,655.13 122.66,654.98" fill="#111"/>
<polygon points="162.2,646.7 162.94,648.48 164.86,648.63 163.4,649.89 163.85,651.77 162.2,650.76 160.55,651.77 161,649.89 159.54,648.63 161.46,648.48" fill="#111"/>
<polygon points="167.8,646.7 168.54,648.48 170.46,648.63 169,649.89 169.45,651.77 167.8,650.76 166.15,651.77 166.6,649.89 165.14,648.63 167.06,648.48" fill="#111"/>
<polygon points="202.1,639.9 202.84,641.68 204.76,641.83 203.3,643.09 203.75,644.97 202.1,643.96 200.45,644.97 200.9,643.09 199.44,641.83 201.36,641.68" fill="#111"/>
<polygon points="207.7,639.9 208.44,641.68 210.36,641.83 208.9,643.09 209.35,644.97 207.7,643.96 206.05,644.97 206.5,643.09 205.04,641.83 206.96,641.68" fill="#111"/>
<polygon points="213.3,639.9 214.04,641.68 215.96,641.83 214.5,643.09 214.95,644.97 213.3,643.96 211.65,644.97 212.1,643.09 210.64,641.83 212.56,641.68" fill="#111"/>
<line x1="304.2" y1="547.9" x2="304.2" y2="640.6" stroke="#333" stroke-width="1"/>
<line x1="302" y1="555.2" x2="304.2" y2="555.2" stroke="#333" stroke-width="1"/>
<text x="296.4" y="558.95" font-size="10.5" text-anchor="end" font-weight="normal">40</text>
<line x1="302" y1="570.8" x2="304.2" y2="570.8" stroke="#333" stroke-width="1"/>
<text x="296.4" y="574.55" font-size="10.5" text-anchor="end" font-weight="normal">20</text>
<line x1="302" y1="586.4" x2="304.2" y2="586.4" stroke="#333" stroke-width="1"/>
<text x="296.4" y="590.15" font-size="10.5" text-anchor="end" font-weight="normal">0</text>
<line x1="302" y1="601.8" x2="304.2" y2="601.8" stroke="#333" stroke-width="1"/>
<text x="296.4" y="605.55" font-size="10.5" text-anchor="end" font-weight="normal">-20</text>
<line x1="302" y1="617.1" x2="304.2" y2="617.1" stroke="#333" stroke-width="1"/>
<text x="296.4" y="620.85" font-size="10.5" text-anchor="end" font-weight="normal">-40</text>
<line x1="302" y1="632.5" x2="304.2" y2="632.5" stroke="#333" stroke-width="1"/>
<text x="296.4" y="636.25" font-size="10.5" text-anchor="end" font-weight="normal">-60</text>
<line x1="336.5" y1="616.8" x2="336.5" y2="620.8" stroke="#444" stroke-width="0.9"/>
<line x1="333.9" y1="620.8" x2="339.1" y2="620.8" stroke="#444" stroke-width="0.9"/>
<rect x="325.7" y="586.5" width="21.6" height="30.3" fill="#000"/>
<line x1="379.05" y1="607.2" x2="379.05" y2="612.5" stroke="#444" stroke-width="0.9"/>
<line x1="376.45" y1="612.5" x2="381.65" y2="612.5" stroke="#444" stroke-width="0.9"/>
<rect x="368.3" y="586.5" width="21.5" height="20.7" fill="#000"/>
<line x1="422" y1="602.9" x2="422" y2="607.3" stroke="#444" stroke-width="0.9"/>
<line x1="419.4" y1="607.3" x2="424.6" y2="607.3" stroke="#444" stroke-width="0.9"/>
<rect x="411.3" y="586.5" width="21.4" height="16.4" fill="#000"/>
<line x1="464.95" y1="596.5" x2="464.95" y2="600.4" stroke="#444" stroke-width="0.9"/>
<line x1="462.35" y1="600.4" x2="467.55" y2="600.4" stroke="#444" stroke-width="0.9"/>
<rect x="454.2" y="586.5" width="21.5" height="10" fill="#000"/>
<line x1="486.3" y1="563.5" x2="486.3" y2="553.4" stroke="#444" stroke-width="0.9"/>
<line x1="483.7" y1="553.4" x2="488.9" y2="553.4" stroke="#444" stroke-width="0.9"/>
<rect x="475.7" y="563.5" width="21.2" height="23" fill="#999" stroke="#333" stroke-width="0.8"/>
<line x1="304.2" y1="586.5" x2="518.8" y2="586.5" stroke="#444" stroke-width="1"/>
<text x="315.3" y="561.3" font-size="20" text-anchor="start" font-weight="bold">J</text>
<polyline points="336.5,635.2 336.5,640 379.3,640 379.3,635.2" fill="none" stroke="#555" stroke-width="0.9"/>
<polyline points="421.6,625 421.6,630 464.7,630 464.7,625" fill="none" stroke="#555" stroke-width="0.9"/>
<polygon points="330.9,627 331.64,628.78 333.56,628.93 332.1,630.19 332.55,632.07 330.9,631.06 329.25,632.07 329.7,630.19 328.24,628.93 330.16,628.78" fill="#111"/>
<polygon points="336.5,627 337.24,628.78 339.16,628.93 337.7,630.19 338.15,632.07 336.5,631.06 334.85,632.07 335.3,630.19 333.84,628.93 335.76,628.78" fill="#111"/>
<polygon points="342.1,627 342.84,628.78 344.76,628.93 343.3,630.19 343.75,632.07 342.1,631.06 340.45,632.07 340.9,630.19 339.44,628.93 341.36,628.78" fill="#111"/>
<polygon points="376.2,619.7 376.94,621.48 378.86,621.63 377.4,622.89 377.85,624.77 376.2,623.76 374.55,624.77 375,622.89 373.54,621.63 375.46,621.48" fill="#111"/>
<polygon points="381.8,619.7 382.54,621.48 384.46,621.63 383,622.89 383.45,624.77 381.8,623.76 380.15,624.77 380.6,622.89 379.14,621.63 381.06,621.48" fill="#111"/>
<polygon points="422.3,615.2 423.04,616.98 424.96,617.13 423.5,618.39 423.95,620.27 422.3,619.26 420.65,620.27 421.1,618.39 419.64,617.13 421.56,616.98" fill="#111"/>
<polygon points="485.9,544.5 486.64,546.28 488.56,546.43 487.1,547.69 487.55,549.57 485.9,548.56 484.25,549.57 484.7,547.69 483.24,546.43 485.16,546.28" fill="#111"/>
<polygon points="351.9,643.9 352.64,645.68 354.56,645.83 353.1,647.09 353.55,648.97 351.9,647.96 350.25,648.97 350.7,647.09 349.24,645.83 351.16,645.68" fill="#111"/>
<polygon points="357.5,643.9 358.24,645.68 360.16,645.83 358.7,647.09 359.15,648.97 357.5,647.96 355.85,648.97 356.3,647.09 354.84,645.83 356.76,645.68" fill="#111"/>
<polygon points="363.1,643.9 363.84,645.68 365.76,645.83 364.3,647.09 364.75,648.97 363.1,647.96 361.45,648.97 361.9,647.09 360.44,645.83 362.36,645.68" fill="#111"/>
<polygon points="443.8,633.1 444.54,634.88 446.46,635.03 445,636.29 445.45,638.17 443.8,637.16 442.15,638.17 442.6,636.29 441.14,635.03 443.06,634.88" fill="#111"/>
<text id="t1" x="112.55" y="16" font-size="13.8" text-anchor="start">CD4<tspan dy="-6.3" font-size="11.5">+</tspan><tspan dy="6.3"> T-helper cells</tspan></text>
<text id="t2" x="338.3" y="15.75" font-size="13.8" text-anchor="start">CD8<tspan dy="-6.3" font-size="11.5">+</tspan><tspan dy="6.3"> cytotoxic T cells</tspan></text>
<text id="yA" transform="translate(27.55 86.2) rotate(-90)" font-size="13.5" text-anchor="middle">Naive [/µL]</text>
<text id="yB1" transform="translate(11.5 199.2) rotate(-90)" font-size="13.5" text-anchor="middle">Central</text>
<text id="yB2" transform="translate(26.9 199.15) rotate(-90)" font-size="13.5" text-anchor="middle">memory [/µL]</text>
<text id="yC1" transform="translate(11.7 325.5) rotate(-90)" font-size="13.5" text-anchor="middle">Effector</text>
<text id="yC2" transform="translate(26.9 325.02) rotate(-90)" font-size="13.5" text-anchor="middle">memory [/µL]</text>
<text id="yD" transform="translate(28.25 447.3) rotate(-90)" font-size="13.5" text-anchor="middle">Effector [/µL]</text>
<text id="yI1" transform="translate(10.4 593.95) rotate(-90)" font-size="13.5" text-anchor="middle">Changes from</text>
<text id="yI2" transform="translate(28.95 592.15) rotate(-90)" font-size="13.5" text-anchor="middle">placebo [%]</text>
<text id="xL0" transform="translate(94.8 502.7) rotate(-90)" font-size="10.9" text-anchor="end">21 h</text>
<text id="xL1" transform="translate(116.2 502.7) rotate(-90)" font-size="10.9" text-anchor="end">+15'</text>
<text id="xL2" transform="translate(137.6 502.7) rotate(-90)" font-size="10.9" text-anchor="end">+30'</text>
<text id="xL3" transform="translate(159 502.7) rotate(-90)" font-size="10.9" text-anchor="end">+60'</text>
<text id="xL4" transform="translate(180.4 502.7) rotate(-90)" font-size="10.9" text-anchor="end">+90'</text>
<text id="xL5" transform="translate(201.8 502.7) rotate(-90)" font-size="10.9" text-anchor="end">+120'</text>
<text id="xL6" transform="translate(223.2 502.7) rotate(-90)" font-size="10.9" text-anchor="end">+180'</text>
<text id="xL7" transform="translate(244.6 502.7) rotate(-90)" font-size="10.9" text-anchor="end">+240'</text>
<text id="xL8" transform="translate(266 502.7) rotate(-90)" font-size="10.9" text-anchor="end">+300'</text>
<text id="xR0" transform="translate(331.7 502.5) rotate(-90)" font-size="10.9" text-anchor="end">21 h</text>
<text id="xR1" transform="translate(353.1 502.5) rotate(-90)" font-size="10.9" text-anchor="end">+15'</text>
<text id="xR2" transform="translate(374.5 502.5) rotate(-90)" font-size="10.9" text-anchor="end">+30'</text>
<text id="xR3" transform="translate(395.9 502.5) rotate(-90)" font-size="10.9" text-anchor="end">+60'</text>
<text id="xR4" transform="translate(417.3 502.5) rotate(-90)" font-size="10.9" text-anchor="end">+90'</text>
<text id="xR5" transform="translate(438.7 502.5) rotate(-90)" font-size="10.9" text-anchor="end">+120'</text>
<text id="xR6" transform="translate(460.1 502.5) rotate(-90)" font-size="10.9" text-anchor="end">+180'</text>
<text id="xR7" transform="translate(481.5 502.5) rotate(-90)" font-size="10.9" text-anchor="end">+240'</text>
<text id="xR8" transform="translate(502.9 502.5) rotate(-90)" font-size="10.9" text-anchor="end">+300'</text>
<g font-size="13.5">
<text id="I_naive" transform="translate(109.1 667.2) rotate(-45)" text-anchor="end">Naive</text>
<text id="I_central" transform="translate(145.8 667) rotate(-45)" text-anchor="end">Central</text>
<text id="I_mem1" transform="translate(165 667.9) rotate(-45)" text-anchor="end">memory</text>
<text id="I_eff1" transform="translate(189.6 666.8) rotate(-45)" text-anchor="end">Effector</text>
<text id="I_mem2" transform="translate(207.3 667.9) rotate(-45)" text-anchor="end">memory</text>
<text id="I_eff2" transform="translate(236.2 666.6) rotate(-45)" text-anchor="end">Effector</text>
<text id="J_naive" transform="translate(345.5 667.2) rotate(-45)" text-anchor="end">Naive</text>
<text id="J_central" transform="translate(382.4 666.9) rotate(-45)" text-anchor="end">Central</text>
<text id="J_mem1" transform="translate(401.9 667.5) rotate(-45)" text-anchor="end">memory</text>
<text id="J_eff1" transform="translate(425.9 666.5) rotate(-45)" text-anchor="end">Effector</text>
<text id="J_mem2" transform="translate(443.1 667.5) rotate(-45)" text-anchor="end">memory</text>
<text id="J_eff2" transform="translate(484.1 666.3) rotate(-45)" text-anchor="end">Effector</text>
</g>
</svg>
</body></html>
